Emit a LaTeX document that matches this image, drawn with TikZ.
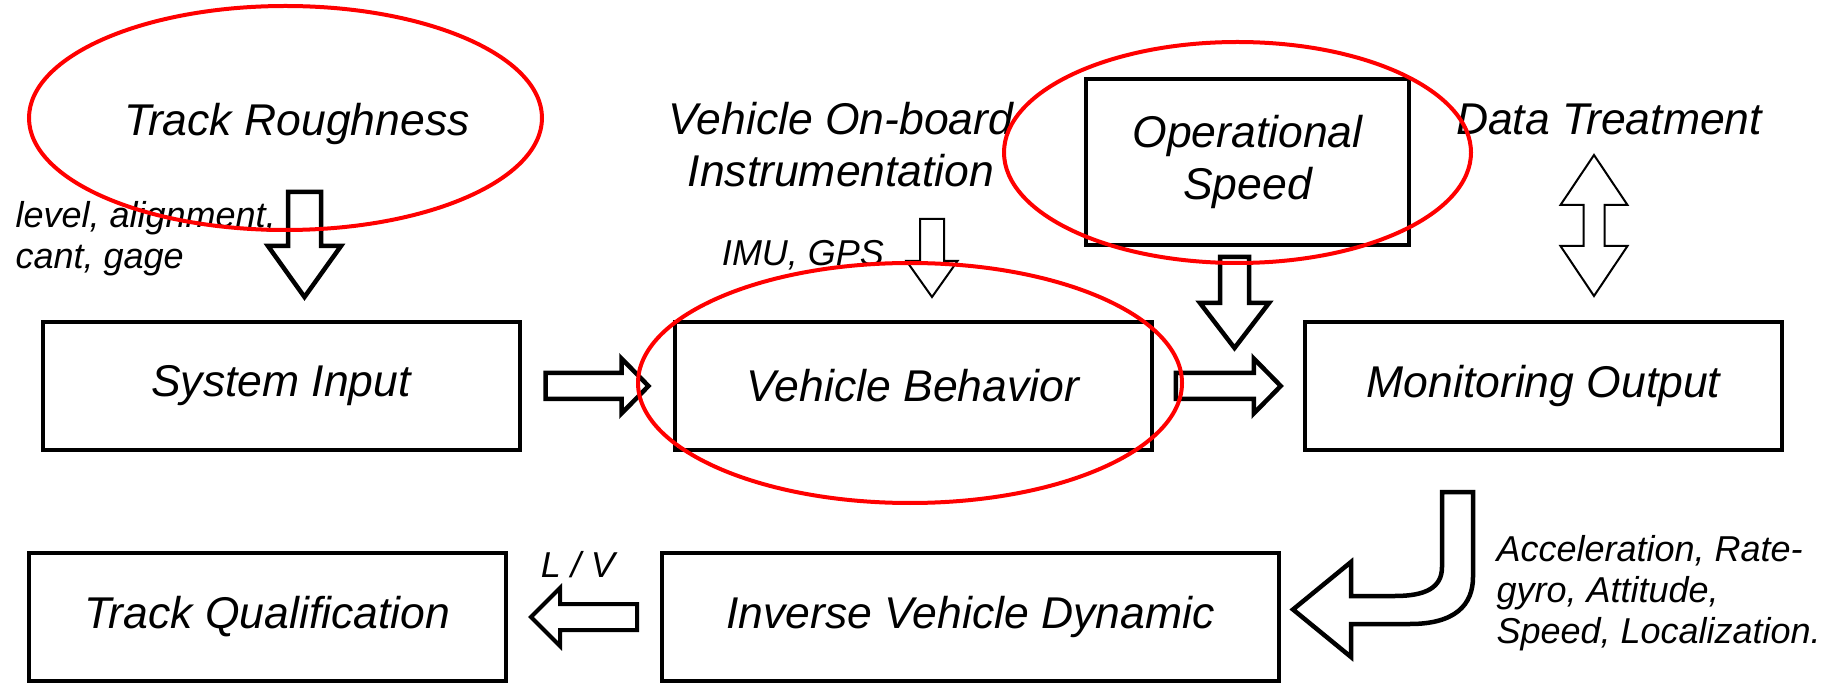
\documentclass[tikz,border=0pt]{standalone}
\usepackage{fontspec}
\setmainfont{Liberation Sans}
\usetikzlibrary{positioning}
\usetikzlibrary{calc}

\begin{document}
\begin{tikzpicture}[x=1pt, y=-1pt,
    block/.style = {draw, line width=4pt, minimum width=477pt, minimum height=128pt, inner sep=0pt,
        font=\fontsize{44.5}{52}\selectfont\itshape, align=center},
    big/.style = {font=\fontsize{44.5}{52}\selectfont\itshape, align=center},
    small/.style = {font=\fontsize{36}{41}\selectfont\itshape},
    ring/.style = {draw=red, line width=4pt},
    pics/fatarrow/.style args={#1/#2/#3/#4}{code={
        \draw[fill=white] ({-#1/2},-#2) -- ({#1/2-#3},-#2) -- ({#1/2-#3},-#4) -- ({#1/2},0)
            -- ({#1/2-#3},#4) -- ({#1/2-#3},#2) -- ({-#1/2},#2) -- cycle;}},
    pics/twinarrow/.style args={#1/#2/#3/#4}{code={
        \draw[fill=white] ({-#1/2},0) -- ({-#1/2+#3},#4) -- ({-#1/2+#3},#2) -- ({#1/2-#3},#2)
            -- ({#1/2-#3},#4) -- ({#1/2},0) -- ({#1/2-#3},-#4) -- ({#1/2-#3},-#2)
            -- ({-#1/2+#3},-#2) -- ({-#1/2+#3},-#4) -- cycle;}}]
    \useasboundingbox (0,0) rectangle (1829,684);

    % boxes
    \node[block] (sysin) at (281,386) {System Input};
    \node[block] (vbeh) at (913,386) {Vehicle Behavior};
    \node[block] (monout) at (1543.5,386) {Monitoring Output};
    \node[block, minimum width=323pt, minimum height=166pt] (opspeed) at (1247.5,162) {Operational\\Speed};
    \node[block] (trackq) at (267.5,617) {Track Qualification};
    \node[block, minimum width=617pt] (invdyn) at (970.5,617) {Inverse Vehicle Dynamic};

    % free labels
    \node[big] (rough) at (297,124) {Track Roughness};
    \node[small, align=left, anchor=west] (roughparm) at (12,239) {level, alignment,\\cant, gage};
    \node[big] (onboard) at (841,145) {Vehicle On-board\\Instrumentation};
    \node[small] (imu) at (803,255) {IMU, GPS};
    \node[big] (datatreat) at (1609,119) {Data Treatment};
    \node[small, align=left, anchor=west] (outputs) at (1493,593) {Acceleration, Rate-\\gyro, Attitude,\\Speed, Localization.};
    \node[small] (lv) at (578,565) {L / V};

    % block arrows
    \pic[line width=4.5pt, rotate=-90] at (304.5,244.5) {fatarrow=105/16.5/51/36.5};
    \pic[line width=2pt, rotate=-90] at (932,258) {fatarrow=78/12/36/25.5};
    \pic[line width=4.5pt, rotate=-90] at (1234.5,302.5) {fatarrow=91/14.5/45/34.5};
    \pic[line width=2pt, rotate=-90] at (1594,225.5) {twinarrow=141/10.5/50/33.5};
    \pic[line width=4.5pt] at ($(sysin.east)!0.5!(vbeh.west)$) {fatarrow=103/13/27/27.5};
    \pic[line width=4.5pt] at ($(vbeh.east)!0.5!(monout.west)$) {fatarrow=105/13/27/27.5};
    \pic[line width=4pt, rotate=180] at ($(trackq.east)!0.5!(invdyn.west)$) {fatarrow=106/13/29/29};

    % bent arrow from the output down to the inverse model
    \draw[line width=4.5pt, fill=white] (1442,492) -- (1442,567)
        .. controls (1442,588) and (1425,596) .. (1395,596) -- (1351,596) -- (1351,562)
        -- (1293,609.5) -- (1351,657) -- (1351,624) -- (1410,624)
        .. controls (1455,624) and (1473,605) .. (1473,577) -- (1473,492) -- cycle;

    % highlights
    \draw[ring] (285.5,118) ellipse [x radius=256.5pt, y radius=112pt];
    \draw[ring] (1237.5,152.5) ellipse [x radius=233.5pt, y radius=110.5pt];
    \draw[ring] (910,383) ellipse [x radius=272pt, y radius=120pt];
\end{tikzpicture}
\end{document}
